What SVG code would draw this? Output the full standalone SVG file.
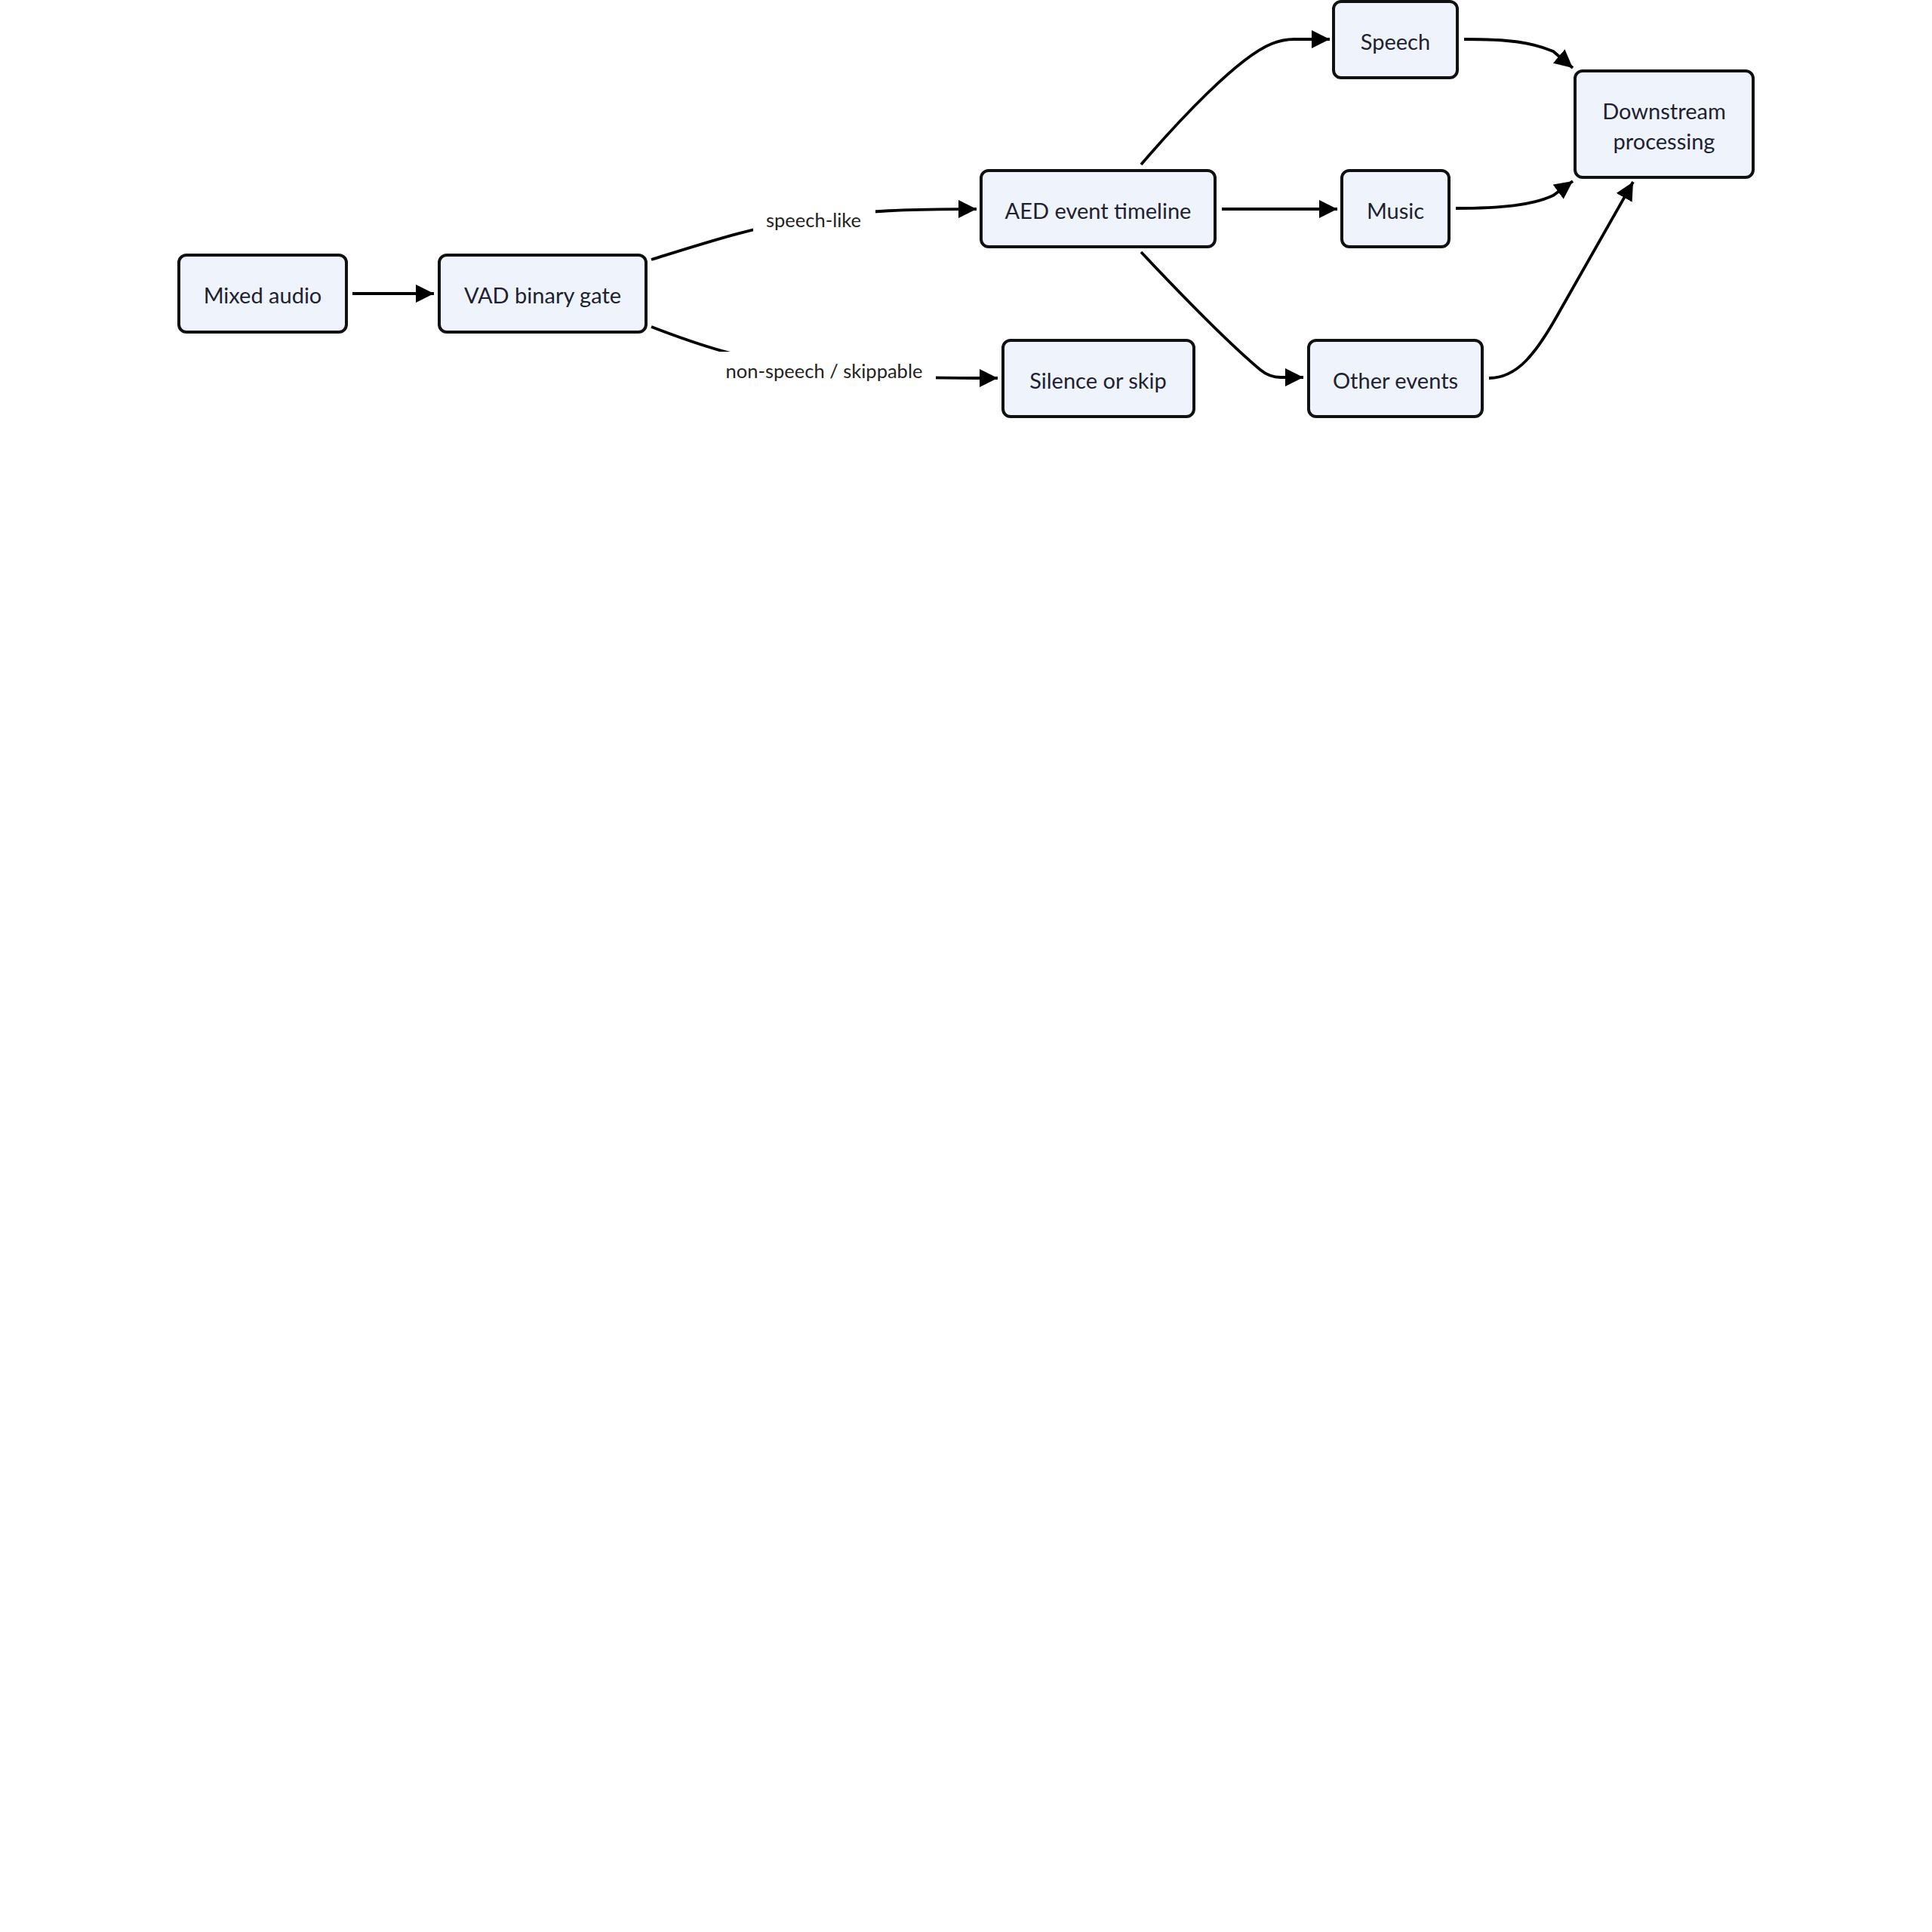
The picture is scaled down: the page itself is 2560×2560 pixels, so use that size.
<svg xmlns="http://www.w3.org/2000/svg" width="2560" height="2560" viewBox="0 0 2560 2560">
<defs>
<style>
.node rect{fill:#eef3fc;stroke:#111;stroke-width:4}
.node text{font-family:Lato,"Liberation Sans",sans-serif;font-size:29px;fill:#1e2230;text-anchor:middle;dominant-baseline:central}
.edge{fill:none;stroke:#000;stroke-width:3.8;marker-end:url(#arrow)}
.lbl rect{fill:#fff;stroke:none}
.lbl text{font-family:Lato,"Liberation Sans",sans-serif;font-size:25.5px;fill:#222;text-anchor:middle;dominant-baseline:central}
</style>
<marker id="arrow" viewBox="0 0 10 10" markerUnits="userSpaceOnUse" markerWidth="24" markerHeight="25" refX="10" refY="5" orient="auto">
<path d="M0,0 L10,5 L0,10 z" fill="#000"/>
</marker>
</defs>
<rect width="2560" height="2560" fill="#fff"/>
<g id="connectors">
<path class="edge" d="M467,389 L575,389"/>
<path class="edge" d="M863,344 C940,320 1000,300 1078,289 C1150,279 1200,277 1294,277"/>
<path class="edge" d="M863,433 C920,455 990,480 1092,491 C1170,500 1220,501 1322,501"/>
<path class="edge" d="M1512,218 C1560,162 1640,76 1685,58 Q1700,52 1715,52 L1762,52"/>
<path class="edge" d="M1619,277 L1772,277"/>
<path class="edge" d="M1512,334 C1560,385 1620,448 1670,490 Q1682,500 1697,500 L1727,500"/>
<path class="edge" d="M1940,52 C2000,52 2030,56 2058,68 L2084,90"/>
<path class="edge" d="M1929,276 C1990,276 2030,272 2058,259 L2084,240"/>
<path class="edge" d="M1973,501 C2010,501 2035,470 2068,410 L2164,241"/>
<g class="lbl"><rect x="998" y="268" width="162" height="44"/><text x="1078" y="291">speech-like</text></g>
<g class="lbl"><rect x="944" y="466" width="296" height="48"/><text x="1092" y="491">non-speech / skippable</text></g>
</g>
<g id="n-mixed" class="node"><rect x="237" y="338" width="222" height="102" rx="10"/><text x="348" y="390">Mixed audio</text></g>
<g id="n-vad" class="node"><rect x="582" y="338" width="274" height="102" rx="10"/><text x="719" y="390">VAD binary gate</text></g>
<g id="n-aed" class="node"><rect x="1300" y="226" width="310" height="101" rx="10"/><text x="1455" y="278">AED event timeline</text></g>
<g id="n-silence" class="node"><rect x="1329" y="451" width="253" height="101" rx="10"/><text x="1455" y="503">Silence or skip</text></g>
<g id="n-speech" class="node"><rect x="1767" y="2" width="164" height="101" rx="10"/><text x="1849" y="54">Speech</text></g>
<g id="n-music" class="node"><rect x="1778" y="226" width="142" height="101" rx="10"/><text x="1849" y="278">Music</text></g>
<g id="n-other" class="node"><rect x="1734" y="451" width="230" height="101" rx="10"/><text x="1849" y="503">Other events</text></g>
<g id="n-down" class="node"><rect x="2087" y="94" width="236" height="141" rx="10"/><text x="2205" y="146">Downstream</text><text x="2205" y="186">processing</text></g>
</svg>
